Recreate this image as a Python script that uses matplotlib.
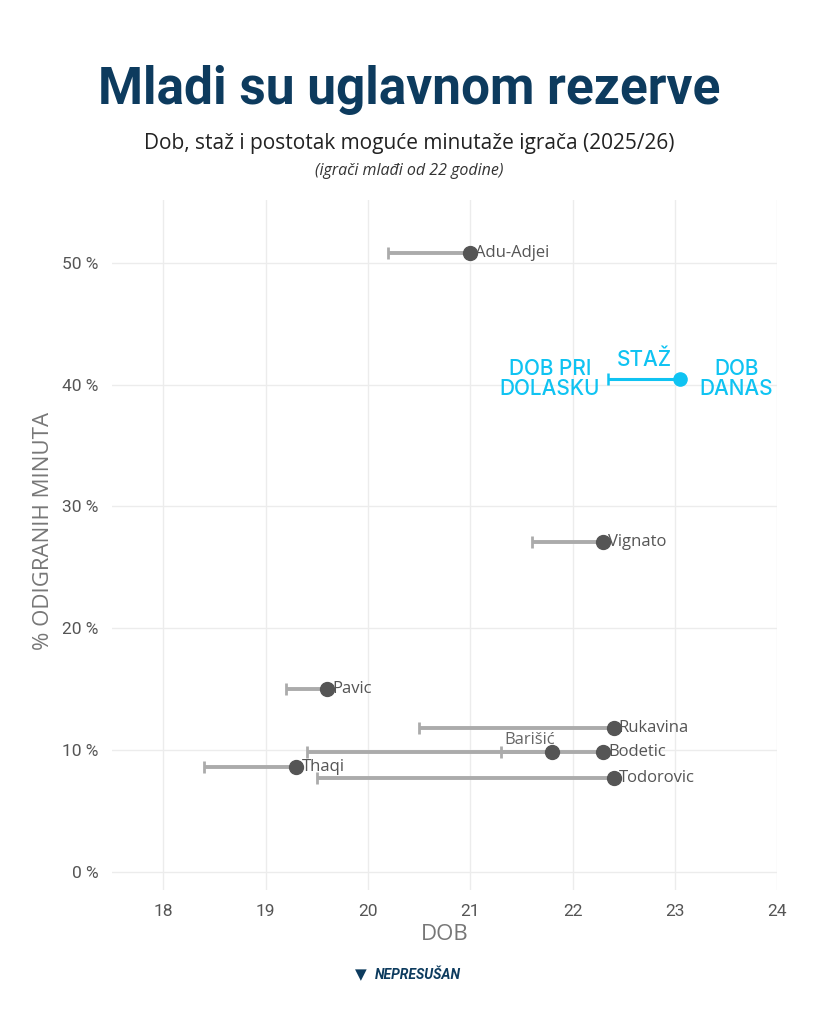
import matplotlib.pyplot as plt
from matplotlib.ticker import FuncFormatter

# Data
players = ['Adu-Adjei', 'Vignato', 'Pavic', 'Rukavina', 'Barišić', 'Bodetic', 'Thaqi', 'Todorovic']
age_arrival = [20.2, 21.6, 19.2, 20.5, 21.3, 19.4, 18.4, 19.5]
age_now = [21.0, 22.3, 19.6, 22.4, 21.8, 22.3, 19.3, 22.4]
pct_minutes = [50.8, 27.1, 15.0, 11.8, 9.8, 9.8, 8.6, 7.7]

# legend example (STAŽ)
legend_arrival = 22.35
legend_now = 23.05
legend_pct = 40.5

x_ticks = [18, 19, 20, 21, 22, 23, 24]
y_ticks = [0, 10, 20, 30, 40, 50]

navy = '#0d3b5e'
cyan = '#0fc3f2'
line_gray = '#ababab'
dot_gray = '#555555'

fig = plt.figure(figsize=(8.19, 10.24), dpi=100)
ax = fig.add_axes([0.137, 0.131, 0.812, 0.674])

for i in range(len(players)):
    ax.plot([age_arrival[i], age_now[i]], [pct_minutes[i], pct_minutes[i]],
            color=line_gray, lw=2.8, solid_capstyle='butt', zorder=2)
    ax.plot(age_arrival[i], pct_minutes[i], marker='|', color=line_gray,
            markersize=9, mew=2, zorder=2)
    ax.plot(age_now[i], pct_minutes[i], 'o', color=dot_gray, markersize=10, zorder=3)
    if players[i] == 'Barišić':
        ax.text(age_now[i] - 0.47, pct_minutes[i] + 1.0, players[i], fontsize=12,
                color='#666666', family='Open Sans', ha='left', va='center')
    else:
        ax.text(age_now[i] + 0.05, pct_minutes[i], players[i], fontsize=12,
                color='#555555', family='Open Sans', ha='left', va='center')

# legend in cyan
ax.plot([legend_arrival, legend_now], [legend_pct, legend_pct], color=cyan, lw=2.2,
        solid_capstyle='butt', zorder=2)
ax.plot(legend_arrival, legend_pct, marker='|', color=cyan, markersize=8, mew=1.8)
ax.plot(legend_now, legend_pct, 'o', color=cyan, markersize=9.5)
ax.text(22.7, legend_pct + 0.7, 'STAŽ', color=cyan, fontsize=15, family='Inter',
        ha='center', va='bottom', fontweight='medium')
ax.text(22.27, legend_pct, 'DOB PRI\nDOLASKU', color=cyan, fontsize=15, family='Inter',
        ha='right', va='center', linespacing=1.0, multialignment='center', fontweight='medium')
ax.text(23.6, legend_pct, 'DOB\nDANAS', color=cyan, fontsize=15, family='Inter',
        ha='center', va='center', linespacing=1.0, fontweight='medium')

ax.set_xlim(17.5, 24)
ax.set_ylim(-1.5, 55.2)
ax.set_xticks(x_ticks)
ax.set_yticks(y_ticks)
ax.yaxis.set_major_formatter(FuncFormatter(lambda v, p: '%d %%' % v))
ax.grid(True, color='#ececec', lw=1)
ax.set_axisbelow(True)
for s in ax.spines.values():
    s.set_visible(False)
ax.tick_params(length=0, labelsize=12.5, labelcolor='#555555', pad=10)
for lab in ax.get_xticklabels() + ax.get_yticklabels():
    lab.set_family('Roboto')
ax.set_xlabel('DOB', fontsize=16, color='#777777', family='Open Sans', labelpad=4)
ax.set_ylabel('% ODIGRANIH MINUTA', fontsize=16, color='#777777', family='Open Sans', labelpad=6)
ax.yaxis.set_label_coords(-0.088, 0.52)

# Titles
fig.text(0.5, 0.912, 'Mladi su uglavnom rezerve', ha='center', va='center',
         fontsize=37, fontweight='bold', color=navy, family='Roboto')
fig.text(0.5, 0.860, 'Dob, staž i postotak moguće minutaže igrača (2025/26)', ha='center',
         va='center', fontsize=15, color='#222222', family='Open Sans')
fig.text(0.5, 0.833, '(igrači mlađi od 22 godine)', ha='center', va='center',
         fontsize=11.5, style='italic', color='#333333', family='Open Sans')

# footer logo text
fig.text(0.51, 0.048, 'NEPRESUŠAN', ha='center', va='center', fontsize=10,
         fontweight='bold', style='italic', color=navy, family='Roboto')
fig.text(0.44, 0.048, '\u25BC', ha='center', va='center', fontsize=11, color=navy)

fig.savefig('out.png', dpi=100, facecolor='white')
